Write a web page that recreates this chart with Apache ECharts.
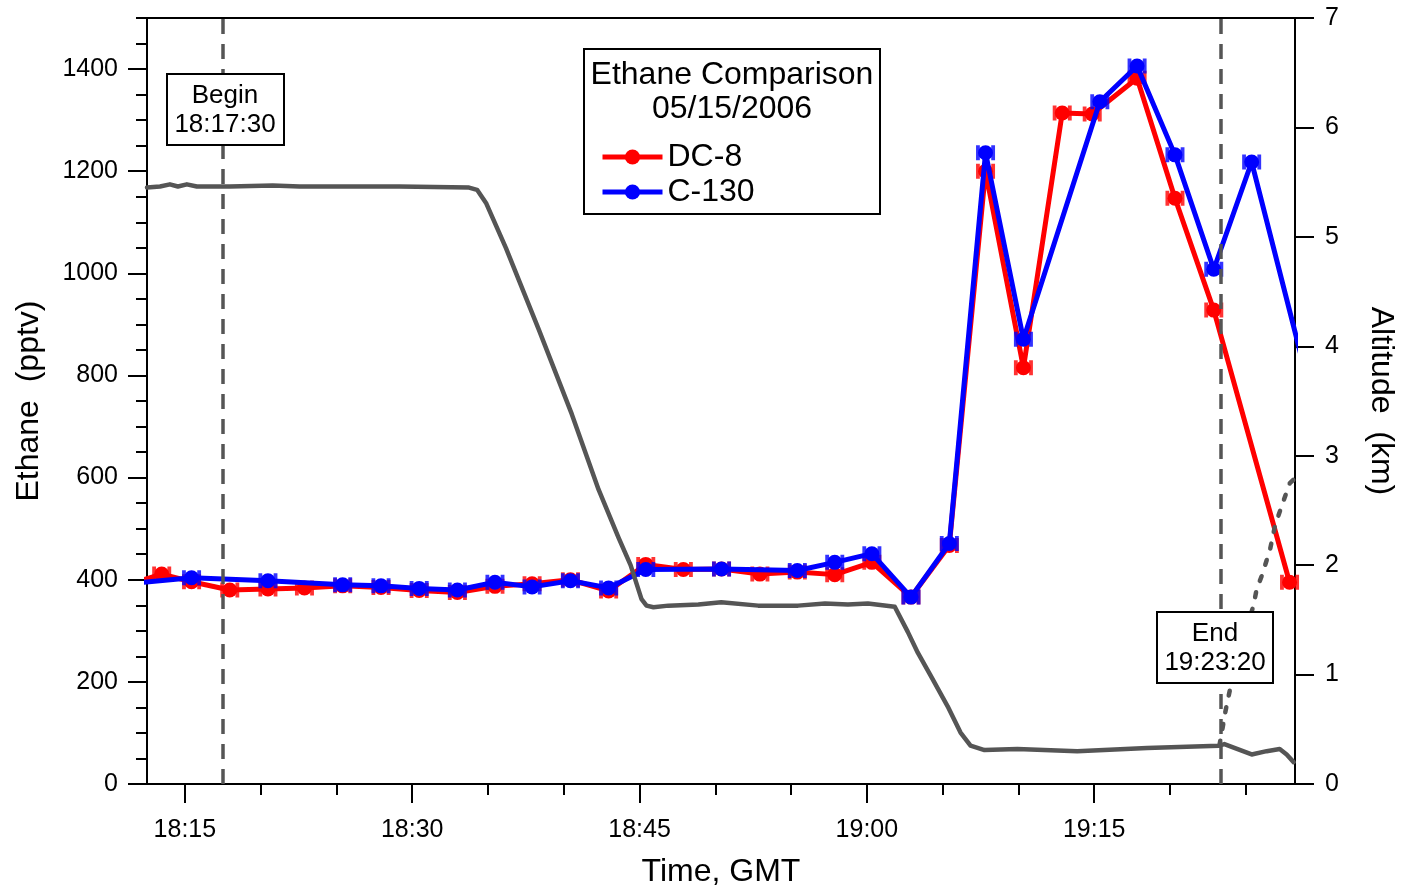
<!DOCTYPE html>
<html><head><meta charset="utf-8">
<script src="https://cdn.jsdelivr.net/npm/echarts@6/dist/echarts.min.js"></script>
<style>html,body{margin:0;padding:0;background:#fff}#c{width:1405px;height:893px}</style>
</head><body><div id="c"></div>
<script>
// Times are minutes after 18:00 GMT
const xMajorTicks = [15, 30, 45, 60, 75];
const xMajorLabels = ['18:15', '18:30', '18:45', '19:00', '19:15'];
const xMinorTicks = [20, 25, 35, 40, 50, 55, 65, 70, 80, 85];
const yLeftMajorTicks = [0, 200, 400, 600, 800, 1000, 1200, 1400];
const yLeftMinorTicks = [50, 100, 150, 250, 300, 350, 450, 500, 550, 650, 700, 750, 850, 900, 950, 1050, 1100, 1150, 1250, 1300, 1350, 1450, 1500];
const yRightTicks = [0, 1, 2, 3, 4, 5, 6, 7];

const dc8Minutes = [11.0, 13.47, 15.44, 17.96, 20.48, 22.89, 25.41, 27.94, 30.46, 32.98, 35.46, 37.91, 40.44, 42.96, 45.41, 47.89, 50.41, 52.94, 55.41, 57.88, 60.33, 62.91, 65.44, 67.83, 70.33, 72.89, 74.87, 77.83, 80.33, 82.89, 87.89];
const dc8Ethane = [388, 411, 396, 380, 382, 384, 388, 385, 379, 375, 387, 392, 400, 378, 430, 420, 421, 411, 415, 410, 434, 366, 467, 1200, 815, 1314, 1312, 1382, 1147, 928, 395];

const c130Minutes = [10.94, 15.44, 20.48, 25.41, 27.94, 30.46, 32.98, 35.46, 37.91, 40.44, 42.96, 45.41, 50.41, 55.41, 57.88, 60.33, 62.91, 65.44, 67.83, 70.33, 75.37, 77.83, 80.33, 82.89, 85.39, 88.7];
const c130Ethane = [391, 404, 398, 390, 388, 383, 380, 395, 386, 398, 384, 420, 421, 418, 434, 451, 366, 471, 1236, 871, 1336, 1406, 1232, 1008, 1218, 833];

const altMinutes = [12.5, 13.36, 14.01, 14.54, 15.13, 15.79, 17.96, 20.79, 22.57, 29.14, 33.75, 34.28, 34.87, 36.18, 38.36, 40.53, 42.30, 43.62, 44.41, 45.13, 45.46, 45.92, 46.9, 48.88, 50.39, 52.83, 55.46, 57.24, 58.75, 60.07, 61.84, 62.70, 63.36, 64.21, 65.33, 66.18, 66.84, 67.76, 69.93, 73.88, 78.49, 83.22, 83.59, 85.39, 86.38, 87.24, 87.7, 88.16];
const altKm = [5.45, 5.46, 5.48, 5.46, 5.48, 5.46, 5.46, 5.47, 5.46, 5.46, 5.45, 5.43, 5.31, 4.90, 4.15, 3.38, 2.69, 2.25, 2.00, 1.69, 1.63, 1.615, 1.63, 1.64, 1.66, 1.63, 1.63, 1.65, 1.64, 1.65, 1.62, 1.39, 1.20, 0.99, 0.71, 0.47, 0.35, 0.31, 0.32, 0.30, 0.33, 0.35, 0.365, 0.27, 0.30, 0.32, 0.27, 0.20];

const alt2Minutes = [83.26, 83.42, 83.64, 83.97, 84.41, 85.51, 85.72, 86.05, 86.6, 86.93, 87.37, 87.91, 88.3];
const alt2Km = [0.35, 0.47, 0.65, 0.87, 1.14, 1.63, 1.78, 1.90, 2.14, 2.36, 2.54, 2.75, 2.8];

const beginMinute = 17.5;   // 18:17:30
const endMinute = 83.333;   // 19:23:20

const FONT = 'Liberation Sans';
const zip = (a, b) => a.map((v, i) => [v, b[i]]);
const capSymbol = 'path://M0 0h4v16H0z M16 0h4v16h-4z M0 6h20v4H0z';

const chart = echarts.init(document.getElementById('c'), null, {renderer: 'canvas'});
chart.setOption({
  animation: false,
  backgroundColor: '#fff',
  textStyle: {fontFamily: FONT},
  grid: {left: 147, right: 107, top: 18, bottom: 108, show: true, borderColor: '#000', borderWidth: 2, backgroundColor: 'transparent'},
  legend: {
    data: ['DC-8', 'C-130'], orient: 'vertical', left: 595, top: 136,
    itemWidth: 60, itemHeight: 19, itemGap: 3,
    lineStyle: {width: 5},
    textStyle: {fontFamily: FONT, fontSize: 32, color: '#000', lineHeight: 32}
  },
  xAxis: [
    {type: 'value', min: 12.5, max: 88.25, position: 'bottom',
     name: 'Time, GMT', nameLocation: 'middle', nameGap: 72,
     nameTextStyle: {fontFamily: FONT, fontSize: 32, color: '#000'},
     axisLine: {show: true, lineStyle: {color: '#000', width: 2}},
     axisTick: {show: true, customValues: xMajorTicks, length: 19, lineStyle: {color: '#000', width: 2}},
     axisLabel: {customValues: xMajorTicks, margin: 34, fontFamily: FONT, fontSize: 25, color: '#000',
       formatter: v => { const i = xMajorTicks.indexOf(Math.round(v)); return i >= 0 ? xMajorLabels[i] : ''; }},
     splitLine: {show: false}},
    {type: 'value', min: 12.5, max: 88.25, position: 'bottom',
     axisLine: {show: false},
     axisTick: {show: true, customValues: xMinorTicks, length: 11, lineStyle: {color: '#000', width: 2}},
     axisLabel: {show: false}, splitLine: {show: false}}
  ],
  yAxis: [
    {type: 'value', min: 0, max: 1500, position: 'left',
     name: 'Ethane  (pptv)', nameLocation: 'middle', nameGap: 102,
     nameTextStyle: {fontFamily: FONT, fontSize: 32, color: '#000'},
     axisLine: {show: true, lineStyle: {color: '#000', width: 2}},
     axisTick: {show: true, customValues: yLeftMajorTicks, length: 19, lineStyle: {color: '#000', width: 2}},
     axisLabel: {customValues: yLeftMajorTicks, margin: 29, fontFamily: FONT, fontSize: 25, color: '#000',
       formatter: v => String(v)},
     splitLine: {show: false}},
    {type: 'value', min: 0, max: 7, interval: 1, position: 'right',
     name: 'Altitude  (km)', nameLocation: 'middle', nameGap: 70, nameRotate: -90,
     nameTextStyle: {fontFamily: FONT, fontSize: 32, color: '#000'},
     axisLine: {show: true, lineStyle: {color: '#000', width: 2}},
     axisTick: {show: true, customValues: yRightTicks, length: 19, lineStyle: {color: '#000', width: 2}},
     axisLabel: {customValues: yRightTicks, margin: 30, fontFamily: FONT, fontSize: 25, color: '#000',
       formatter: v => String(v)},
     splitLine: {show: false}},
    {type: 'value', min: 0, max: 1500, position: 'left',
     axisLine: {show: false},
     axisTick: {show: true, customValues: yLeftMinorTicks, length: 11, lineStyle: {color: '#000', width: 2}},
     axisLabel: {show: false}, splitLine: {show: false}}
  ],
  series: [
    {name: 'DC-8', type: 'line', xAxisIndex: 0, yAxisIndex: 0, data: zip(dc8Minutes, dc8Ethane),
     symbol: 'circle', symbolSize: 15, showAllSymbol: true, z: 3,
     lineStyle: {color: '#ff0000', width: 5}, itemStyle: {color: '#ff0000'}},
    {name: 'DC-8 err', type: 'scatter', xAxisIndex: 0, yAxisIndex: 0, data: zip(dc8Minutes, dc8Ethane),
     symbol: capSymbol, symbolSize: [19, 15], z: 3, itemStyle: {color: '#ff0000'}, silent: true},
    {name: 'C-130', type: 'line', xAxisIndex: 0, yAxisIndex: 0, data: zip(c130Minutes, c130Ethane),
     symbol: 'circle', symbolSize: 15, showAllSymbol: true, z: 4,
     lineStyle: {color: '#0000ff', width: 5}, itemStyle: {color: '#0000ff'}},
    {name: 'C-130 err', type: 'scatter', xAxisIndex: 0, yAxisIndex: 0, data: zip(c130Minutes, c130Ethane),
     symbol: capSymbol, symbolSize: [19, 15], z: 4, itemStyle: {color: '#0000ff'}, silent: true},
    {name: 'Altitude', type: 'line', xAxisIndex: 0, yAxisIndex: 1, data: zip(altMinutes, altKm),
     symbol: 'none', z: 5, lineStyle: {color: '#555555', width: 4.5, join: 'round', cap: 'round'},
     markLine: {silent: true, symbol: ['none', 'none'], label: {show: false},
       lineStyle: {color: '#555555', width: 3.5, type: [15, 10]},
       data: [{xAxis: beginMinute}, {xAxis: endMinute}]}},
    {name: 'Altitude 2', type: 'line', xAxisIndex: 0, yAxisIndex: 1, data: zip(alt2Minutes, alt2Km),
     symbol: 'none', z: 5, lineStyle: {color: '#555555', width: 4.5, type: [5, 12], cap: 'round'}}
  ],
  graphic: [
    {type: 'rect', z: 50, shape: {x: 584, y: 49, width: 296, height: 165}, style: {fill: 'none', stroke: '#000', lineWidth: 2}},
    {type: 'text', z: 51, x: 732, y: 75, style: {text: 'Ethane Comparison', font: '32px "Liberation Sans"', fill: '#000', align: 'center', verticalAlign: 'middle'}},
    {type: 'text', z: 51, x: 732, y: 109, style: {text: '05/15/2006', font: '32px "Liberation Sans"', fill: '#000', align: 'center', verticalAlign: 'middle'}},
    {type: 'rect', z: 50, shape: {x: 167, y: 74, width: 117, height: 71}, style: {fill: '#fff', stroke: '#000', lineWidth: 2}},
    {type: 'text', z: 51, x: 225, y: 96, style: {text: 'Begin', font: '26px "Liberation Sans"', fill: '#000', align: 'center', verticalAlign: 'middle'}},
    {type: 'text', z: 51, x: 225, y: 125, style: {text: '18:17:30', font: '26px "Liberation Sans"', fill: '#000', align: 'center', verticalAlign: 'middle'}},
    {type: 'rect', z: 50, shape: {x: 1157, y: 612, width: 116, height: 71}, style: {fill: '#fff', stroke: '#000', lineWidth: 2}},
    {type: 'text', z: 51, x: 1215, y: 634, style: {text: 'End', font: '26px "Liberation Sans"', fill: '#000', align: 'center', verticalAlign: 'middle'}},
    {type: 'text', z: 51, x: 1215, y: 663, style: {text: '19:23:20', font: '26px "Liberation Sans"', fill: '#000', align: 'center', verticalAlign: 'middle'}}
  ]
});
</script></body></html>
